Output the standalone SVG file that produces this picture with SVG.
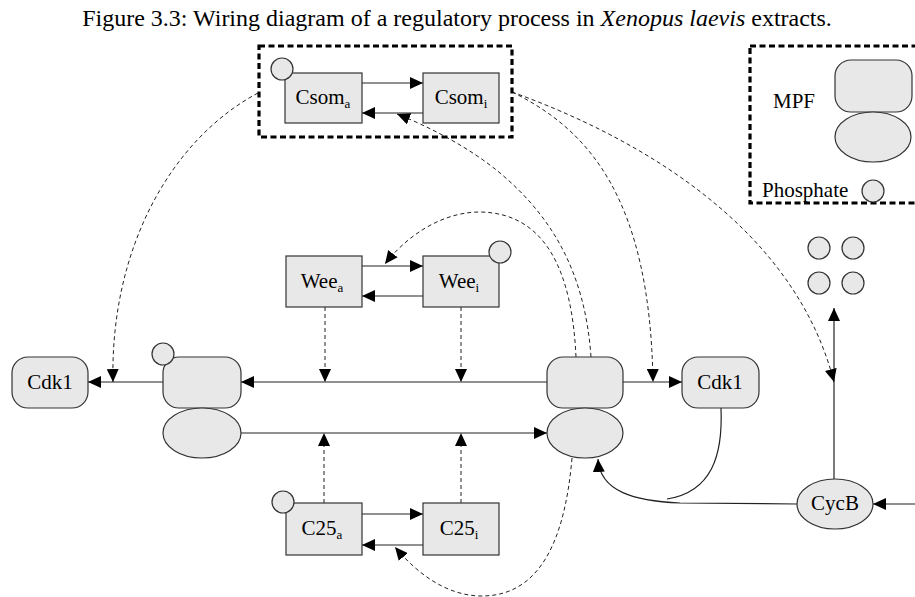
<svg xmlns="http://www.w3.org/2000/svg" width="915" height="597" viewBox="0 0 915 597">
<style>
text{font-family:"Liberation Serif","Times New Roman",serif;fill:#000}
.t{font-size:21px}
.n{font-size:21px;text-anchor:middle}
.s{font-size:13px}
.box{fill:#e8e8e8;stroke:#333;stroke-width:1.2}
.ph{fill:#e8e8e8;stroke:#333;stroke-width:1.2}
.ln{fill:none;stroke:#222;stroke-width:1.2}
.ds{fill:none;stroke:#222;stroke-width:1;stroke-dasharray:4,3}
.grp{fill:none;stroke:#000;stroke-width:3.2;stroke-dasharray:6,3.5}
</style>
<defs>
<marker id="ah" markerUnits="userSpaceOnUse" markerWidth="14" markerHeight="12" refX="13" refY="6" orient="auto">
<path d="M0,0 L13,6 L0,12 z" fill="#000"/>
</marker>
</defs>
<text x="457" y="26" font-size="24" text-anchor="middle">Figure 3.3: Wiring diagram of a regulatory process in <tspan font-style="italic">Xenopus laevis</tspan> extracts.</text>

<g id="connectors">
<path class="ln" d="M362,83 L423,83" marker-end="url(#ah)"/>
<path class="ln" d="M423,113 L362,113" marker-end="url(#ah)"/>
<path class="ln" d="M362,266 L423,266" marker-end="url(#ah)"/>
<path class="ln" d="M423,296 L362,296" marker-end="url(#ah)"/>
<path class="ln" d="M362,514 L423,514" marker-end="url(#ah)"/>
<path class="ln" d="M423,545 L362,545" marker-end="url(#ah)"/>
<path class="ln" d="M547,382 L241,382" marker-end="url(#ah)"/>
<path class="ln" d="M163,382 L88,382" marker-end="url(#ah)"/>
<path class="ln" d="M241,433 L547,433" marker-end="url(#ah)"/>
<path class="ln" d="M623,382 L682,382" marker-end="url(#ah)"/>
<path class="ln" d="M834,479 L834,308" marker-end="url(#ah)"/>
<path class="ln" d="M915,504 L873,504" marker-end="url(#ah)"/>
<path class="ln" d="M797,504 L680,503 C635,501 600,492 598,459" marker-end="url(#ah)"/>
<path class="ln" d="M721,408 C723,455 712,492 667,499"/>
<path class="ds" d="M325,307 L325,382" marker-end="url(#ah)"/>
<path class="ds" d="M461,307 L461,382" marker-end="url(#ah)"/>
<path class="ds" d="M324,503 L324,433" marker-end="url(#ah)"/>
<path class="ds" d="M461,503 L461,433" marker-end="url(#ah)"/>
<path class="ds" d="M258,93 C170,140 110,250 113,382" marker-end="url(#ah)"/>
<path class="ds" d="M512,92 C590,130 650,200 653,382" marker-end="url(#ah)"/>
<path class="ds" d="M512,92 C645,140 795,230 834,382" marker-end="url(#ah)"/>
<path class="ds" d="M591,357 C585,270 550,215 500,173 C470,148 430,127 397,114" marker-end="url(#ah)"/>
<path class="ds" d="M576,357 C572,270 545,213 480,212 C440,212 405,238 385,264" marker-end="url(#ah)"/>
<path class="ds" d="M572,458 C565,540 540,597 480,596 C440,595 410,565 395,547" marker-end="url(#ah)"/>
</g>

<g id="csom-group"><rect class="grp" x="259" y="46" width="253" height="91"/></g>
<g id="csom_a"><rect class="box" x="285" y="73" width="77" height="50"/><circle class="ph" cx="282" cy="69" r="11"/><text class="n" x="323" y="104">Csom<tspan class="s" dy="4">a</tspan></text></g>
<g id="csom_i"><rect class="box" x="423" y="73" width="76" height="50"/><text class="n" x="461" y="104">Csom<tspan class="s" dy="4">i</tspan></text></g>

<g id="legend">
<rect class="grp" x="750" y="46" width="170" height="157"/>
<text class="t" x="773" y="108">MPF</text>
<rect class="box" x="835" y="60" width="77" height="52" rx="16"/>
<ellipse class="box" cx="873" cy="137" rx="38" ry="25"/>
<text class="t" x="762" y="197">Phosphate</text>
<circle class="ph" cx="873" cy="191" r="11"/>
</g>

<g id="wee_a"><rect class="box" x="286" y="256" width="76" height="51"/><text class="n" x="322" y="288">Wee<tspan class="s" dy="4">a</tspan></text></g>
<g id="wee_i"><rect class="box" x="423" y="256" width="76" height="51"/><circle class="ph" cx="500" cy="252" r="11"/><text class="n" x="459" y="288">Wee<tspan class="s" dy="4">i</tspan></text></g>

<g id="c25_a"><rect class="box" x="286" y="503" width="76" height="52"/><circle class="ph" cx="283" cy="502" r="11"/><text class="n" x="322" y="535">C25<tspan class="s" dy="4">a</tspan></text></g>
<g id="c25_i"><rect class="box" x="423" y="503" width="76" height="52"/><text class="n" x="459" y="535">C25<tspan class="s" dy="4">i</tspan></text></g>

<g id="cdk1-left"><rect class="box" x="12" y="357" width="76" height="51" rx="16"/><text class="n" x="50" y="389">Cdk1</text></g>
<g id="mpf-left"><rect class="box" x="163" y="357" width="78" height="51" rx="16"/><ellipse class="box" cx="202" cy="433" rx="39" ry="25"/><circle class="ph" cx="163" cy="354" r="11"/></g>
<g id="mpf-right"><rect class="box" x="547" y="357" width="76" height="51" rx="16"/><ellipse class="box" cx="585" cy="433" rx="38" ry="25"/></g>
<g id="cdk1-right"><rect class="box" x="682" y="357" width="77" height="51" rx="16"/><text class="n" x="720" y="389">Cdk1</text></g>

<g id="phosphates">
<circle class="ph" cx="819" cy="248" r="11"/><circle class="ph" cx="853" cy="248" r="11"/>
<circle class="ph" cx="819" cy="283" r="11"/><circle class="ph" cx="853" cy="283" r="11"/>
</g>
<g id="cycb"><ellipse class="box" cx="835" cy="504" rx="38" ry="25"/><text class="n" x="835" y="510">CycB</text></g>
</svg>
